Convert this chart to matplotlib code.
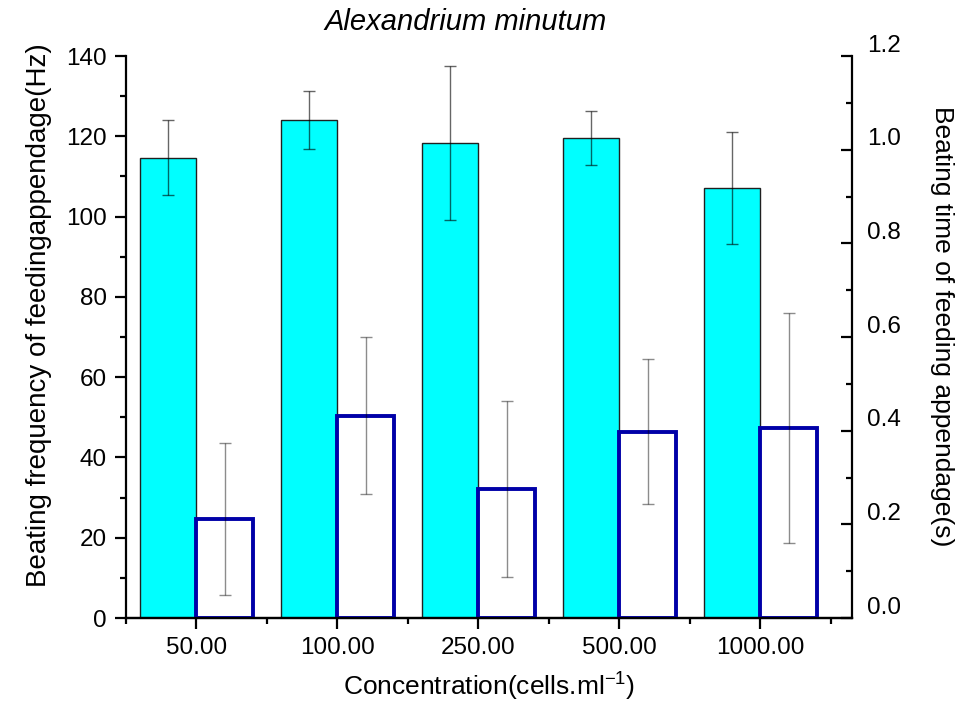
import numpy as np
import matplotlib.pyplot as plt
import matplotlib.transforms as mtransforms
from matplotlib.ticker import MultipleLocator

plt.rcParams['font.family'] = ['Liberation Sans', 'DejaVu Sans']
plt.rcParams['mathtext.default'] = 'regular'

# Feeding appendage measurements at each algal concentration
concentrations = ['50.00', '100.00', '250.00', '500.00', '1000.00']
beat_freq = [114.7, 124.1, 118.3, 119.6, 107.1]          # Hz
beat_freq_err = [9.4, 7.3, 19.2, 6.8, 14.0]
beat_time = [0.212, 0.432, 0.275, 0.398, 0.406]          # s
beat_time_err = [0.162, 0.167, 0.188, 0.154, 0.245]

x = np.arange(1, len(concentrations) + 1)
w = 0.4

fig = plt.figure(figsize=(9.72, 7.03), dpi=100)
ax = fig.add_axes([0.1296, 0.1209, 0.7469, 0.7994])
ax2 = ax.twinx()

# frequency bars (left axis)
ax.bar(x - w / 2, beat_freq, width=w, color='#00ffff', edgecolor='#202020', linewidth=1.0, zorder=1)
ax.errorbar(x - w / 2, beat_freq, yerr=beat_freq_err, fmt='none', ecolor='black', alpha=0.6,
            elinewidth=1.0, capsize=4.5, capthick=1.0, zorder=3)

# beating time bars (right axis)
ax2.bar(x + w / 2, beat_time, width=w, color='white', edgecolor='#0000a8', linewidth=2.8, zorder=1)
ax2.errorbar(x + w / 2, beat_time, yerr=beat_time_err, fmt='none', ecolor='black', alpha=0.45,
             elinewidth=1.0, capsize=4.5, capthick=1.0, zorder=3)

ax.set_xlim(0.5, 5.65)
ax.set_ylim(0, 140)
ax2.set_ylim(0, 1.2)

ax.set_xticks(x)
ax.set_xticklabels(concentrations)
ax.xaxis.set_minor_locator(MultipleLocator(1.0, offset=0.5))
ax.yaxis.set_major_locator(MultipleLocator(20))
ax.yaxis.set_minor_locator(MultipleLocator(10))
ax2.set_yticks([0.0, 0.2, 0.4, 0.6, 0.8, 1.0, 1.2])
ax2.set_yticklabels(['0.0', '0.2', '0.4', '0.6', '0.8', '1.0', '1.2'])
ax2.yaxis.set_minor_locator(MultipleLocator(0.1))

for a in (ax, ax2):
    a.spines['top'].set_visible(False)
    for s in a.spines.values():
        s.set_linewidth(1.6)
ax.spines['right'].set_visible(False)
ax2.spines['left'].set_visible(False)

ax.tick_params(axis='both', which='major', direction='out', length=8, width=1.6, labelsize=17.5, pad=6)
ax.tick_params(axis='both', which='minor', direction='out', length=4.5, width=1.6)
ax2.tick_params(axis='y', which='major', direction='in', length=8, width=1.6, labelsize=17.5, pad=11)
ax2.tick_params(axis='y', which='minor', direction='in', length=4.5, width=1.6)

# right-hand tick labels sit slightly above their ticks
shift = mtransforms.ScaledTranslation(0, 13 / 100, fig.dpi_scale_trans)
for lab in ax2.get_yticklabels():
    lab.set_transform(lab.get_transform() + shift)

ax.set_xlabel('Concentration(cells.ml$^{-1}$)', fontsize=19, labelpad=8)
ax.set_ylabel('Beating frequency of feedingappendage(Hz)', fontsize=20, labelpad=10)
ax2.set_ylabel('Beating time of feeding appendage(s)', fontsize=19, rotation=270, labelpad=38)
ax.yaxis.label.set_y(0.539)
ax2.yaxis.label.set_y(0.52)
ax.set_title('Alexandrium minutum', fontsize=21, style='italic', x=0.468, pad=19)

fig.savefig('out.png', dpi=100)
